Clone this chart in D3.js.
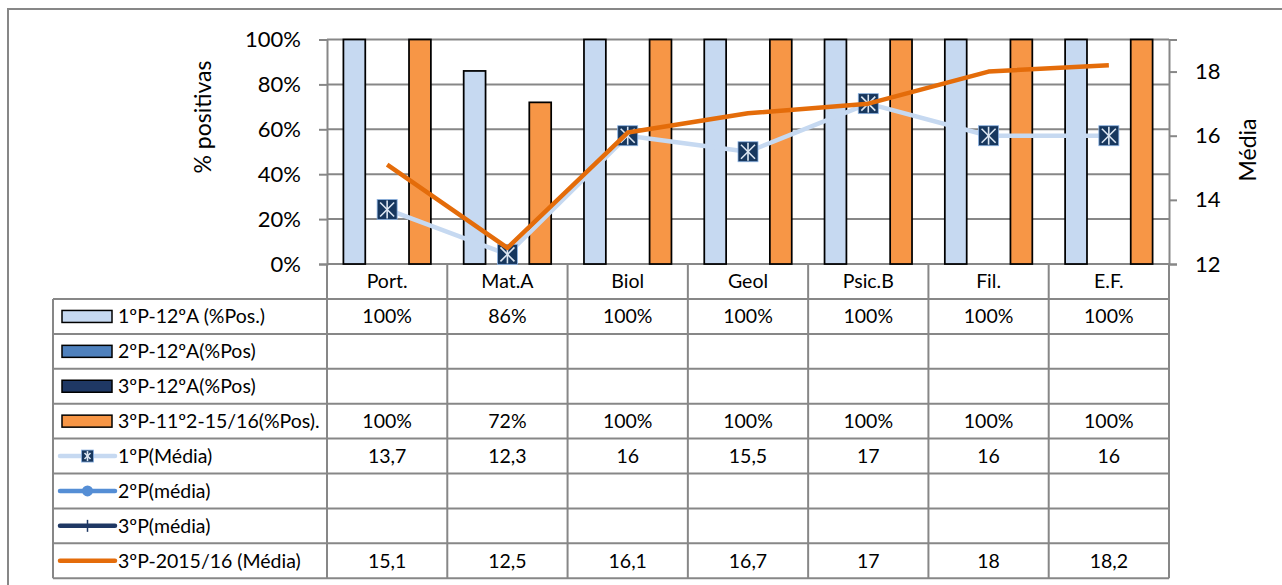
<!DOCTYPE html>
<html>
<head>
<meta charset="utf-8">
<script src="https://cdn.jsdelivr.net/npm/d3@7/dist/d3.min.js"></script>
<style>
  html, body { margin: 0; padding: 0; background: #fff; }
  svg { display: block; }
  text { font-family: Lato, "Open Sans", sans-serif; fill: #000; }
</style>
</head>
<body>
<svg id="chart" width="1282" height="585"></svg>
<script>
// Subjects
const categories = ["Port.", "Mat.A", "Biol", "Geol", "Psic.B", "Fil.", "E.F."];

// Bar series: share of positive grades (0..1), null = no data yet
const pos1P12 = [1.00, 0.86, 1.00, 1.00, 1.00, 1.00, 1.00];
const pos2P12 = [null, null, null, null, null, null, null];
const pos3P12 = [null, null, null, null, null, null, null];
const pos3P11 = [1.00, 0.72, 1.00, 1.00, 1.00, 1.00, 1.00];

// Line series: average grade
const media1P = [13.7, 12.3, 16, 15.5, 17, 16, 16];
const media2P = [null, null, null, null, null, null, null];
const media3P = [null, null, null, null, null, null, null];
const media3P1516 = [15.1, 12.5, 16.1, 16.7, 17, 18, 18.2];

// Axis ticks
const leftTicks = [0, 0.2, 0.4, 0.6, 0.8, 1.0];
const rightTicks = [12, 14, 16, 18];

// Series names as shown in the data table
const seriesNames = [
  "1ºP-12ºA (%Pos.)", "2ºP-12ºA(%Pos)", "3ºP-12ºA(%Pos)", "3ºP-11º2-15/16(%Pos).",
  "1ºP(Média)", "2ºP(média)", "3ºP(média)", "3ºP-2015/16 (Média)"
];

const GRID = "#878787";
const barSeries = [
  { values: pos1P12, fill: "#c6d9f1" },
  { values: pos2P12, fill: "#4f81bd" },
  { values: pos3P12, fill: "#1f3864" },
  { values: pos3P11, fill: "#f79646" }
];
const lineSeries = [
  { values: media1P, stroke: "#c6d9f1", marker: "star" },
  { values: media2P, stroke: "#558ed5", marker: "circle" },
  { values: media3P, stroke: "#1f3864", marker: "plus" },
  { values: media3P1516, stroke: "#e46c0a", marker: "none" }
];

const svg = d3.select("#chart");

// Plot area
const plot = { left: 327, right: 1169, top: 39.5, bottom: 264 };

const x = d3.scaleBand().domain(categories).range([plot.left, plot.right]).padding(0);
const yPct = d3.scaleLinear().domain([0, 1]).range([plot.bottom, plot.top]);
const yAvg = d3.scaleLinear().domain([12, 19]).range([plot.bottom, plot.top]);

// Bar geometry: 4 clustered bars, 150% gap width
const barW = x.bandwidth() / 5.5;
const barX = (cat, i) => x(cat) + barW * 0.75 + i * barW;

// Outer frame
svg.append("rect")
  .attr("x", 8).attr("y", 9).attr("width", 1300).attr("height", 600)
  .attr("fill", "none").attr("stroke", GRID).attr("stroke-width", 2);

// Horizontal gridlines
svg.append("g").selectAll("line").data(leftTicks).join("line")
  .attr("x1", plot.left).attr("x2", plot.right)
  .attr("y1", d => yPct(d)).attr("y2", d => yPct(d))
  .attr("stroke", GRID).attr("stroke-width", 2);

// Left axis
const leftAxis = d3.axisLeft(yPct).tickValues(leftTicks)
  .tickFormat(d => Math.round(d * 100) + "%").tickSize(8).tickPadding(18);
const gL = svg.append("g").attr("transform", `translate(${plot.left},0)`).call(leftAxis);
gL.select(".domain").attr("stroke", GRID).attr("stroke-width", 2);
gL.selectAll(".tick line").attr("stroke", GRID).attr("stroke-width", 2);
gL.selectAll(".tick text").style("font-size", "22px").attr("fill", "#000");

// Right axis
const rightAxis = d3.axisRight(yAvg).tickValues(rightTicks)
  .tickFormat(d3.format("d")).tickSize(8).tickPadding(18);
const gR = svg.append("g").attr("transform", `translate(${plot.right},0)`).call(rightAxis);
gR.select(".domain").attr("stroke", GRID).attr("stroke-width", 2);
gR.selectAll(".tick line").attr("stroke", GRID).attr("stroke-width", 2);
gR.selectAll(".tick text").style("font-size", "22px").attr("fill", "#000");

// Axis titles
svg.append("text")
  .attr("transform", `translate(211,117) rotate(-90)`)
  .attr("text-anchor", "middle").style("font-size", "23px").text("% positivas");
svg.append("text")
  .attr("transform", `translate(1256,150) rotate(-90)`)
  .attr("text-anchor", "middle").style("font-size", "23px").text("Média");

// Bars
barSeries.forEach((s, i) => {
  svg.append("g").selectAll("rect")
    .data(categories.map((c, k) => ({ c, v: s.values[k] })).filter(d => d.v != null))
    .join("rect")
    .attr("x", d => barX(d.c, i))
    .attr("y", d => yPct(d.v))
    .attr("width", barW)
    .attr("height", d => yPct(0) - yPct(d.v))
    .attr("fill", s.fill)
    .attr("stroke", "#000").attr("stroke-width", 1.75);
});

// Star marker (square with light asterisk)
function drawStar(g, cx, cy, size) {
  const h = size / 2, r = h - 3;
  g.append("rect").attr("x", cx - h).attr("y", cy - h).attr("width", size).attr("height", size)
    .attr("fill", "#17375e").attr("stroke", "#8eb4e3").attr("stroke-width", 0.8);
  const star = g.append("g").attr("stroke", "#dce6f2").attr("stroke-width", 1.6);
  star.append("line").attr("x1", cx - r).attr("y1", cy - r).attr("x2", cx + r).attr("y2", cy + r);
  star.append("line").attr("x1", cx - r).attr("y1", cy + r).attr("x2", cx + r).attr("y2", cy - r);
  star.append("line").attr("x1", cx).attr("y1", cy - h + 1).attr("x2", cx).attr("y2", cy + h - 1);
}

// Lines
const line = d3.line()
  .defined(d => d.v != null)
  .x(d => x(d.c) + x.bandwidth() / 2)
  .y(d => yAvg(d.v));

lineSeries.forEach(s => {
  const pts = categories.map((c, k) => ({ c, v: s.values[k] }));
  const g = svg.append("g");
  g.append("path").datum(pts).attr("d", line)
    .attr("fill", "none").attr("stroke", s.stroke).attr("stroke-width", 4.5)
    .attr("stroke-linejoin", "round");
  pts.filter(d => d.v != null).forEach(d => {
    const cx = x(d.c) + x.bandwidth() / 2, cy = yAvg(d.v);
    if (s.marker === "star") drawStar(g, cx, cy, 20);
    else if (s.marker === "circle") g.append("circle").attr("cx", cx).attr("cy", cy).attr("r", 5).attr("fill", s.stroke);
  });
});

// Data table
const tbl = { left: 53, top: 299, rowH: 34.9 };
const headerTop = plot.bottom;
const nRows = seriesNames.length;
const tblBottom = tbl.top + nRows * tbl.rowH;
const tg = svg.append("g");

// Category header cells
tg.selectAll("text.cat").data(categories).join("text")
  .attr("class", "cat")
  .attr("x", d => x(d) + x.bandwidth() / 2)
  .attr("y", (headerTop + tbl.top) / 2)
  .attr("dy", "0.35em").attr("text-anchor", "middle")
  .style("font-size", "19.5px").text(d => d);

// Horizontal rules
const rowYs = d3.range(nRows + 1).map(i => tbl.top + i * tbl.rowH);
tg.selectAll("line.h").data(rowYs).join("line")
  .attr("x1", tbl.left).attr("x2", plot.right)
  .attr("y1", d => d).attr("y2", d => d)
  .attr("stroke", GRID).attr("stroke-width", 2);

// Vertical rules
const colXs = categories.map(c => x(c)).concat([plot.right]);
tg.selectAll("line.v").data(colXs).join("line")
  .attr("x1", d => d).attr("x2", d => d)
  .attr("y1", headerTop).attr("y2", tblBottom)
  .attr("stroke", GRID).attr("stroke-width", 2);
tg.append("line").attr("x1", tbl.left).attr("x2", tbl.left)
  .attr("y1", tbl.top).attr("y2", tblBottom)
  .attr("stroke", GRID).attr("stroke-width", 2);

// Row contents
const fmtPct = v => v == null ? "" : Math.round(v * 100) + "%";
const fmtAvg = v => v == null ? "" : String(v).replace(".", ",");
const rows = [
  ...barSeries.map(s => ({ values: s.values, fmt: fmtPct, key: "bar", s })),
  ...lineSeries.map(s => ({ values: s.values, fmt: fmtAvg, key: "line", s }))
];

rows.forEach((r, i) => {
  const cy = tbl.top + i * tbl.rowH + tbl.rowH / 2;
  // legend key
  if (r.key === "bar") {
    tg.append("rect").attr("x", 62).attr("y", cy - 6).attr("width", 50).attr("height", 12)
      .attr("fill", r.s.fill).attr("stroke", "#000").attr("stroke-width", 1.5);
  } else {
    tg.append("line").attr("x1", 60).attr("x2", 115).attr("y1", cy).attr("y2", cy)
      .attr("stroke", r.s.stroke).attr("stroke-width", 4.5).attr("stroke-linecap", "round");
    if (r.s.marker === "star") drawStar(tg, 87.5, cy, 12);
    else if (r.s.marker === "circle")
      tg.append("circle").attr("cx", 87.5).attr("cy", cy).attr("r", 5.5).attr("fill", r.s.stroke);
    else if (r.s.marker === "plus")
      tg.append("line").attr("x1", 87.5).attr("x2", 87.5).attr("y1", cy - 6).attr("y2", cy + 6)
        .attr("stroke", r.s.stroke).attr("stroke-width", 1.5);
  }
  tg.append("text").attr("x", 118).attr("y", cy).attr("dy", "0.35em")
    .style("font-size", "19.5px").text(seriesNames[i]);
  // values
  categories.forEach((c, k) => {
    const t = r.fmt(r.values[k]);
    if (!t) return;
    tg.append("text").attr("x", x(c) + x.bandwidth() / 2).attr("y", cy).attr("dy", "0.35em")
      .attr("text-anchor", "middle").style("font-size", "19.5px").text(t);
  });
});
</script>
</body>
</html>
